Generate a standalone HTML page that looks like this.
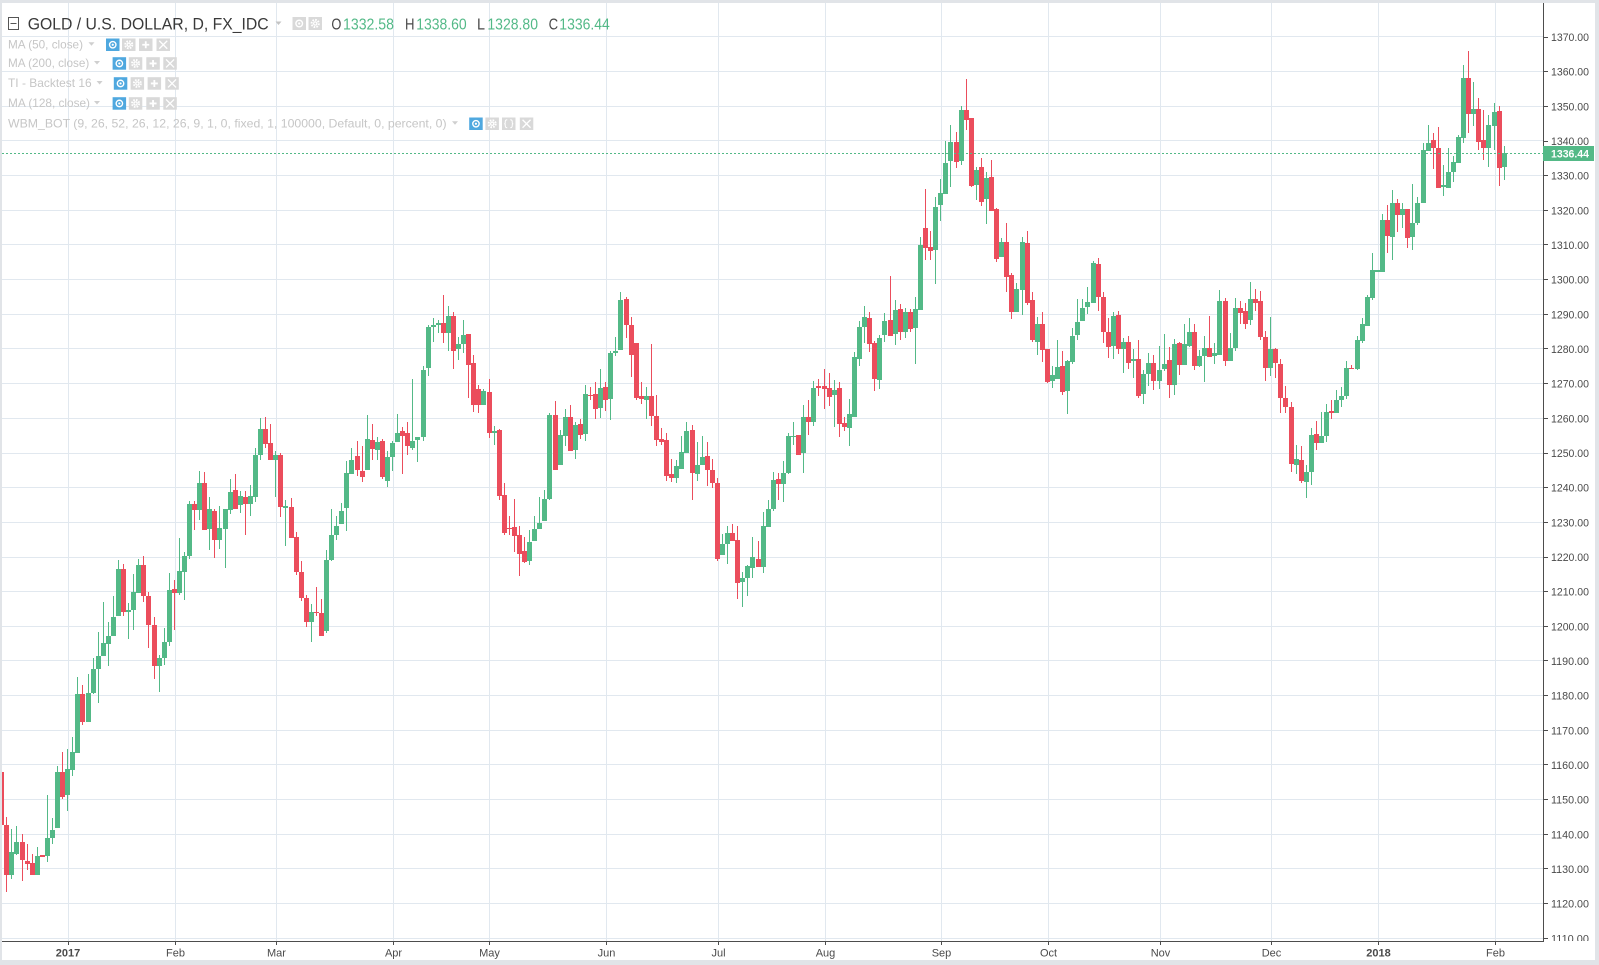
<!DOCTYPE html>
<html><head><meta charset="utf-8"><style>
html,body{margin:0;padding:0;width:1599px;height:965px;overflow:hidden;background:#e1e4e8;}
svg{display:block;font-family:"Liberation Sans",Arial,sans-serif;}
</style></head><body>
<svg id="chart" width="1599" height="965" viewBox="0 0 1599 965" xmlns="http://www.w3.org/2000/svg">
<defs>
<clipPath id="pane"><rect x="2" y="3" width="1541" height="938.5"/></clipPath>
<clipPath id="pscale"><rect x="1544" y="3" width="51" height="938"/></clipPath>
</defs>
<rect x="0" y="0" width="1599" height="965" fill="#e1e4e8"/>
<rect x="2" y="3" width="1593" height="957" fill="#ffffff"/>
<g stroke="#e1e8ef" stroke-width="1" shape-rendering="crispEdges">
<line x1="2" x2="1543" y1="36.5" y2="36.5"/>
<line x1="2" x2="1543" y1="71.5" y2="71.5"/>
<line x1="2" x2="1543" y1="106.5" y2="106.5"/>
<line x1="2" x2="1543" y1="140.5" y2="140.5"/>
<line x1="2" x2="1543" y1="175.5" y2="175.5"/>
<line x1="2" x2="1543" y1="210.5" y2="210.5"/>
<line x1="2" x2="1543" y1="244.5" y2="244.5"/>
<line x1="2" x2="1543" y1="279.5" y2="279.5"/>
<line x1="2" x2="1543" y1="314.5" y2="314.5"/>
<line x1="2" x2="1543" y1="348.5" y2="348.5"/>
<line x1="2" x2="1543" y1="383.5" y2="383.5"/>
<line x1="2" x2="1543" y1="418.5" y2="418.5"/>
<line x1="2" x2="1543" y1="453.5" y2="453.5"/>
<line x1="2" x2="1543" y1="487.5" y2="487.5"/>
<line x1="2" x2="1543" y1="522.5" y2="522.5"/>
<line x1="2" x2="1543" y1="557.5" y2="557.5"/>
<line x1="2" x2="1543" y1="591.5" y2="591.5"/>
<line x1="2" x2="1543" y1="626.5" y2="626.5"/>
<line x1="2" x2="1543" y1="660.5" y2="660.5"/>
<line x1="2" x2="1543" y1="695.5" y2="695.5"/>
<line x1="2" x2="1543" y1="730.5" y2="730.5"/>
<line x1="2" x2="1543" y1="764.5" y2="764.5"/>
<line x1="2" x2="1543" y1="799.5" y2="799.5"/>
<line x1="2" x2="1543" y1="834.5" y2="834.5"/>
<line x1="2" x2="1543" y1="868.5" y2="868.5"/>
<line x1="2" x2="1543" y1="903.5" y2="903.5"/>
<line x1="2" x2="1543" y1="938.5" y2="938.5"/>
<line y1="3" y2="941" x1="68.5" x2="68.5"/>
<line y1="3" y2="941" x1="175.5" x2="175.5"/>
<line y1="3" y2="941" x1="276.5" x2="276.5"/>
<line y1="3" y2="941" x1="393.5" x2="393.5"/>
<line y1="3" y2="941" x1="489.5" x2="489.5"/>
<line y1="3" y2="941" x1="606.5" x2="606.5"/>
<line y1="3" y2="941" x1="718.5" x2="718.5"/>
<line y1="3" y2="941" x1="825.5" x2="825.5"/>
<line y1="3" y2="941" x1="941.5" x2="941.5"/>
<line y1="3" y2="941" x1="1048.5" x2="1048.5"/>
<line y1="3" y2="941" x1="1160.5" x2="1160.5"/>
<line y1="3" y2="941" x1="1271.5" x2="1271.5"/>
<line y1="3" y2="941" x1="1378.5" x2="1378.5"/>
<line y1="3" y2="941" x1="1495.5" x2="1495.5"/>
</g>

<!-- legend -->
<g>
<rect x="8.5" y="17.5" width="10" height="12" fill="none" stroke="#555" stroke-width="1" shape-rendering="crispEdges"/>
<line x1="10.5" x2="16.5" y1="23.5" y2="23.5" stroke="#555" stroke-width="1" shape-rendering="crispEdges"/>
<text x="27.7" y="29.3" font-size="16.5" fill="#3a3a3a" textLength="241" lengthAdjust="spacingAndGlyphs">GOLD / U.S. DOLLAR, D, FX_IDC</text>
<path d="M275.5 21.5 L281.5 21.5 L278.5 25 Z" fill="#c4c4c4"/>
<rect x="292.5" y="17" width="13.5" height="13" fill="#d9d9d9"/>
<circle cx="299.2" cy="23.5" r="3.3" fill="none" stroke="#fff" stroke-width="1.4"/>
<circle cx="299.2" cy="23.5" r="1.1" fill="#fff"/>
<rect x="308.5" y="17" width="13.5" height="13" fill="#d9d9d9"/>
<circle cx="315.2" cy="23.5" r="3.6" fill="none" stroke="#fff" stroke-width="2" stroke-dasharray="1.6 1.2"/>
<circle cx="315.2" cy="23.5" r="2.2" fill="#fff"/>
<circle cx="315.2" cy="23.5" r="1" fill="#d9d9d9"/>
<text x="331.4" y="29.3" font-size="15.5" fill="#4a4a4a" textLength="10" lengthAdjust="spacingAndGlyphs">O</text>
<text x="343" y="29.3" font-size="15.5" fill="#53b987" textLength="51" lengthAdjust="spacingAndGlyphs">1332.58</text>
<text x="405" y="29.3" font-size="15.5" fill="#4a4a4a" textLength="9.5" lengthAdjust="spacingAndGlyphs">H</text>
<text x="416.2" y="29.3" font-size="15.5" fill="#53b987" textLength="50.5" lengthAdjust="spacingAndGlyphs">1338.60</text>
<text x="477" y="29.3" font-size="15.5" fill="#4a4a4a" textLength="8" lengthAdjust="spacingAndGlyphs">L</text>
<text x="487.4" y="29.3" font-size="15.5" fill="#53b987" textLength="50.6" lengthAdjust="spacingAndGlyphs">1328.80</text>
<text x="548.6" y="29.3" font-size="15.5" fill="#4a4a4a" textLength="9.5" lengthAdjust="spacingAndGlyphs">C</text>
<text x="559.3" y="29.3" font-size="15.5" fill="#53b987" textLength="50.5" lengthAdjust="spacingAndGlyphs">1336.44</text>
</g>

<!-- candles -->
<g id="candles" clip-path="url(#pane)" shape-rendering="crispEdges"></g>

<!-- current price line -->
<line x1="2" x2="1543" y1="153.5" y2="153.5" stroke="#53b987" stroke-width="1" stroke-dasharray="2 2" shape-rendering="crispEdges"/>

<!-- axes -->
<g stroke="#4d4d4d" stroke-width="1" shape-rendering="crispEdges">
<line x1="1543.5" x2="1543.5" y1="3" y2="942"/>
<line x1="2" x2="1544" y1="941.5" y2="941.5"/>
</g>

<!-- price scale -->
<g clip-path="url(#pscale)">
<g stroke="#4d4d4d" stroke-width="1" shape-rendering="crispEdges">
<line x1="1544" x2="1548" y1="37.5" y2="37.5"/>
<line x1="1544" x2="1548" y1="71.5" y2="71.5"/>
<line x1="1544" x2="1548" y1="106.5" y2="106.5"/>
<line x1="1544" x2="1548" y1="141.5" y2="141.5"/>
<line x1="1544" x2="1548" y1="175.5" y2="175.5"/>
<line x1="1544" x2="1548" y1="210.5" y2="210.5"/>
<line x1="1544" x2="1548" y1="244.5" y2="244.5"/>
<line x1="1544" x2="1548" y1="279.5" y2="279.5"/>
<line x1="1544" x2="1548" y1="314.5" y2="314.5"/>
<line x1="1544" x2="1548" y1="348.5" y2="348.5"/>
<line x1="1544" x2="1548" y1="383.5" y2="383.5"/>
<line x1="1544" x2="1548" y1="418.5" y2="418.5"/>
<line x1="1544" x2="1548" y1="453.5" y2="453.5"/>
<line x1="1544" x2="1548" y1="487.5" y2="487.5"/>
<line x1="1544" x2="1548" y1="522.5" y2="522.5"/>
<line x1="1544" x2="1548" y1="557.5" y2="557.5"/>
<line x1="1544" x2="1548" y1="591.5" y2="591.5"/>
<line x1="1544" x2="1548" y1="626.5" y2="626.5"/>
<line x1="1544" x2="1548" y1="660.5" y2="660.5"/>
<line x1="1544" x2="1548" y1="695.5" y2="695.5"/>
<line x1="1544" x2="1548" y1="730.5" y2="730.5"/>
<line x1="1544" x2="1548" y1="764.5" y2="764.5"/>
<line x1="1544" x2="1548" y1="799.5" y2="799.5"/>
<line x1="1544" x2="1548" y1="834.5" y2="834.5"/>
<line x1="1544" x2="1548" y1="868.5" y2="868.5"/>
<line x1="1544" x2="1548" y1="903.5" y2="903.5"/>
<line x1="1544" x2="1548" y1="938.5" y2="938.5"/>
</g>
<g font-size="11" fill="#4a4a4a">
<text x="1551" y="41" textLength="38" lengthAdjust="spacingAndGlyphs">1370.00</text>
<text x="1551" y="75.7" textLength="38" lengthAdjust="spacingAndGlyphs">1360.00</text>
<text x="1551" y="110.3" textLength="38" lengthAdjust="spacingAndGlyphs">1350.00</text>
<text x="1551" y="145" textLength="38" lengthAdjust="spacingAndGlyphs">1340.00</text>
<text x="1551" y="179.7" textLength="38" lengthAdjust="spacingAndGlyphs">1330.00</text>
<text x="1551" y="214.3" textLength="38" lengthAdjust="spacingAndGlyphs">1320.00</text>
<text x="1551" y="249" textLength="38" lengthAdjust="spacingAndGlyphs">1310.00</text>
<text x="1551" y="283.7" textLength="38" lengthAdjust="spacingAndGlyphs">1300.00</text>
<text x="1551" y="318.3" textLength="38" lengthAdjust="spacingAndGlyphs">1290.00</text>
<text x="1551" y="353" textLength="38" lengthAdjust="spacingAndGlyphs">1280.00</text>
<text x="1551" y="387.7" textLength="38" lengthAdjust="spacingAndGlyphs">1270.00</text>
<text x="1551" y="422.3" textLength="38" lengthAdjust="spacingAndGlyphs">1260.00</text>
<text x="1551" y="457" textLength="38" lengthAdjust="spacingAndGlyphs">1250.00</text>
<text x="1551" y="491.7" textLength="38" lengthAdjust="spacingAndGlyphs">1240.00</text>
<text x="1551" y="526.3" textLength="38" lengthAdjust="spacingAndGlyphs">1230.00</text>
<text x="1551" y="561" textLength="38" lengthAdjust="spacingAndGlyphs">1220.00</text>
<text x="1551" y="595.6" textLength="38" lengthAdjust="spacingAndGlyphs">1210.00</text>
<text x="1551" y="630.3" textLength="38" lengthAdjust="spacingAndGlyphs">1200.00</text>
<text x="1551" y="665" textLength="38" lengthAdjust="spacingAndGlyphs">1190.00</text>
<text x="1551" y="699.6" textLength="38" lengthAdjust="spacingAndGlyphs">1180.00</text>
<text x="1551" y="734.3" textLength="38" lengthAdjust="spacingAndGlyphs">1170.00</text>
<text x="1551" y="769" textLength="38" lengthAdjust="spacingAndGlyphs">1160.00</text>
<text x="1551" y="803.6" textLength="38" lengthAdjust="spacingAndGlyphs">1150.00</text>
<text x="1551" y="838.3" textLength="38" lengthAdjust="spacingAndGlyphs">1140.00</text>
<text x="1551" y="873" textLength="38" lengthAdjust="spacingAndGlyphs">1130.00</text>
<text x="1551" y="907.6" textLength="38" lengthAdjust="spacingAndGlyphs">1120.00</text>
<text x="1551" y="942.3" textLength="38" lengthAdjust="spacingAndGlyphs">1110.00</text>
</g>
</g>
<rect x="1543" y="146" width="51" height="15" fill="#53b987"/>
<text x="1551" y="157.5" font-size="11" font-weight="bold" fill="#ffffff" textLength="38" lengthAdjust="spacingAndGlyphs">1336.44</text>

<!-- time scale -->
<g stroke="#4d4d4d" stroke-width="1" shape-rendering="crispEdges">
<line y1="942" y2="945" x1="68.5" x2="68.5"/>
<line y1="942" y2="945" x1="175.5" x2="175.5"/>
<line y1="942" y2="945" x1="276.5" x2="276.5"/>
<line y1="942" y2="945" x1="393.5" x2="393.5"/>
<line y1="942" y2="945" x1="489.5" x2="489.5"/>
<line y1="942" y2="945" x1="606.5" x2="606.5"/>
<line y1="942" y2="945" x1="718.5" x2="718.5"/>
<line y1="942" y2="945" x1="825.5" x2="825.5"/>
<line y1="942" y2="945" x1="941.5" x2="941.5"/>
<line y1="942" y2="945" x1="1048.5" x2="1048.5"/>
<line y1="942" y2="945" x1="1160.5" x2="1160.5"/>
<line y1="942" y2="945" x1="1271.5" x2="1271.5"/>
<line y1="942" y2="945" x1="1378.5" x2="1378.5"/>
<line y1="942" y2="945" x1="1495.5" x2="1495.5"/>
</g>
<g font-size="11" fill="#4a4a4a" text-anchor="middle">
<text x="68" y="956.5" font-weight="bold">2017</text>
<text x="175.5" y="956.5">Feb</text>
<text x="276.5" y="956.5">Mar</text>
<text x="393.5" y="956.5">Apr</text>
<text x="489.5" y="956.5">May</text>
<text x="606.5" y="956.5">Jun</text>
<text x="718.5" y="956.5">Jul</text>
<text x="825.5" y="956.5">Aug</text>
<text x="941.5" y="956.5">Sep</text>
<text x="1048.5" y="956.5">Oct</text>
<text x="1160.5" y="956.5">Nov</text>
<text x="1271.5" y="956.5">Dec</text>
<text x="1378.5" y="956.5" font-weight="bold">2018</text>
<text x="1495.5" y="956.5">Feb</text>
</g>

<!-- indicator rows (static text) -->
<g font-size="12" fill="#c6c6c6">
<text x="8" y="48.3" textLength="75" lengthAdjust="spacingAndGlyphs">MA (50, close)</text>
<text x="8" y="67" textLength="81.3" lengthAdjust="spacingAndGlyphs">MA (200, close)</text>
<text x="8" y="87" textLength="83.7" lengthAdjust="spacingAndGlyphs">TI - Backtest 16</text>
<text x="8" y="107" textLength="82" lengthAdjust="spacingAndGlyphs">MA (128, close)</text>
<text x="8" y="127.3" textLength="438.6" lengthAdjust="spacingAndGlyphs">WBM_BOT (9, 26, 52, 26, 12, 26, 9, 1, 0, fixed, 1, 100000, Default, 0, percent, 0)</text>
</g>
<g id="icons"></g>
</svg>
<script>
(function(){
var D=[
[1157.9,1158,1142.8,1142.8],[1142.8,1144.9,1123.3,1128.2],[1128.2,1141.6,1127.2,1134.9],[1134.4,1142.5,1134.1,1137.9],[1137.9,1140.1,1126.4,1132.5],
[1132.4,1137.3,1129.8,1131.4],[1131.8,1134.4,1128.2,1128.2],[1128.2,1136.2,1128.2,1133.8],[1134.1,1134.1,1133.4,1133.4],[1133.7,1151.2,1132.1,1139.0],
[1138.8,1144.8,1137.2,1141.3],[1141.7,1159.8,1141.7,1158.1],[1158.1,1163.7,1150.3,1150.7],[1151.4,1164.7,1146.6,1158.7],[1158.5,1168.2,1156.7,1163.6],
[1163.5,1185.3,1163.5,1180.6],[1180.6,1183.2,1171.4,1172.3],[1172.3,1186.3,1172.3,1180.9],[1180.9,1191,1180.6,1187.8],[1187.6,1198.5,1177.8,1191.5],
[1191.3,1207.1,1191.3,1195.2],[1195,1201.3,1188.5,1197.3],[1197.1,1208.8,1197.1,1202.8],[1202.9,1219.2,1202.9,1216.6],[1216.6,1218,1202.9,1204],
[1204,1206.8,1196.2,1204.8],[1204.6,1215.2,1199,1210],[1209.6,1219.5,1209.6,1217.8],[1217.8,1220.4,1207.1,1208.7],[1208.8,1210,1193.7,1200.3],
[1200.5,1202.8,1184.9,1188.5],[1188.5,1191.8,1181,1191],[1190.8,1199.6,1188.7,1195.6],[1195.4,1215.5,1194.2,1210.6],[1210.8,1213.5,1198.8,1209.6],
[1209.6,1225.6,1208.9,1216],[1215.6,1221.5,1207.7,1220.4],[1220.2,1236.1,1219.4,1235.4],[1235.4,1236.1,1227.9,1233.5],[1233.5,1244.9,1230.6,1241.4],
[1241.4,1244.6,1227.9,1227.9],[1228,1237.4,1222.1,1233.9],[1233.4,1233.8,1219.8,1225],[1225,1234.8,1222.4,1228.5],[1228.2,1233.7,1216.9,1233.7],
[1233.5,1242.6,1232.5,1238.8],[1239.4,1244,1233.9,1233.9],[1234.9,1239.1,1232.8,1237.7],[1237.4,1239.1,1226.4,1235.4],[1235.4,1240.9,1231.7,1237.7],
[1237.4,1251.3,1236,1249.5],[1249.5,1260,1248.1,1257],[1257,1260.5,1251.3,1252.6],[1252.9,1258.5,1248.1,1248.1],[1248.1,1250.7,1237.4,1249.5],
[1249.5,1250.1,1231.4,1234.3],[1234,1236.5,1223.3,1234.6],[1234.5,1237.1,1225.4,1225.4],[1225.7,1227.3,1214.7,1215.6],[1215.8,1218.7,1207.2,1208.1],
[1208.3,1209.1,1199.7,1201.2],[1201.2,1206.5,1195.4,1204.2],[1204.2,1211.4,1202.9,1203.8],[1203.9,1208,1197.1,1197.1],[1198.6,1222.1,1198,1219.2],
[1219,1233.9,1218.8,1226.2],[1226.3,1231.9,1225,1228.8],[1229.4,1235.7,1229.4,1233.4],[1234,1247.8,1227.4,1244.3],[1243.8,1251.5,1243.8,1248],
[1249,1253.6,1243.3,1245],[1244.9,1252.1,1241.5,1243],[1245,1261.1,1245,1254.1],[1253.8,1258.5,1248.1,1251.1],[1250.8,1254.7,1247.9,1253.3],
[1253.6,1254.1,1242.4,1243],[1241.8,1250.7,1240.1,1248.9],[1248.9,1253.6,1244.9,1253],[1253.3,1261.3,1253.3,1255.9],[1256.2,1257.6,1244,1255],
[1255.9,1259,1249.5,1251.9],[1251.5,1271.2,1251,1253.6],[1253.8,1254.7,1247.5,1254.7],[1254.7,1275.2,1253.6,1274],[1274.6,1287,1272.3,1286.2],
[1286.2,1288.8,1282.1,1287],[1287,1288.5,1284.7,1287.4],[1287.6,1295.7,1281.8,1284.5],[1284.5,1292.5,1279.3,1289.6],[1289.6,1290.8,1274.3,1279.5],
[1280.1,1283.6,1276.9,1281.5],[1281.5,1288.5,1278.9,1284.1],[1284.4,1284.4,1266,1275.5],[1276.1,1278.4,1261.9,1263.7],[1268.6,1269.7,1261.6,1263.7],
[1263.7,1268.6,1263.7,1268],[1267.7,1271.4,1254.4,1255.9],[1255.9,1257.9,1252.4,1256.4],[1256.7,1257,1236.3,1237.7],[1238,1241.4,1226.2,1227],
[1228.5,1231.9,1226.4,1228.2],[1228.6,1236.8,1221.5,1226],[1226.2,1228.8,1214.6,1220.8],[1221.8,1225.9,1218.2,1218.5],[1218.8,1227.9,1217.6,1224.4],
[1224.7,1231.9,1224.7,1228.2],[1228.2,1237.4,1228.2,1229.9],[1230.5,1239.4,1230.5,1236.8],[1236.8,1261.4,1236.5,1261.1],[1261.1,1265.1,1245.2,1245.2],
[1246.6,1256.7,1246.6,1255.3],[1255,1262.8,1252.1,1260.5],[1260.5,1263.9,1250.7,1250.7],[1251,1259,1248.4,1258.2],[1258.5,1259.9,1254.1,1255.1],
[1255.4,1269.7,1253.6,1267.1],[1266.8,1269.1,1265.4,1266.3],[1267.1,1270.6,1259.7,1262.6],[1262.9,1274.3,1260,1268.8],[1269.1,1270.6,1262,1265.2],
[1265.5,1279.5,1259.4,1278.9],[1278.9,1283.6,1278.1,1279.3],[1279.6,1296.3,1279.6,1294.2],[1294.5,1295.1,1283.1,1286.8],[1287,1289.1,1271.8,1278.2],
[1281.8,1281.8,1265.2,1265.8],[1266.5,1270.6,1264,1265.5],[1265.2,1269.1,1259.7,1266.5],[1266.3,1281.3,1257.7,1260.6],[1260.8,1266.8,1251.9,1253.7],
[1254.1,1257.3,1252.2,1253.1],[1253.8,1255.9,1241.8,1243.3],[1243.8,1248.4,1241.7,1242.7],[1242.7,1248.1,1241.3,1246.3],[1245.3,1255,1245.3,1250.4],
[1249.9,1259,1249.9,1256.4],[1256.7,1258.2,1236.5,1244.1],[1243.8,1253.3,1241.8,1246.6],[1246.6,1255,1246.6,1248.9],[1249.2,1253.3,1240.4,1245.2],
[1245.2,1248.4,1239.8,1241.3],[1241.4,1242.9,1218.8,1219.3],[1220.5,1226.7,1220.5,1223.8],[1223.8,1229,1217.9,1227],[1227,1229.6,1224.5,1224.5],
[1225,1228.8,1207.8,1212.4],[1212.9,1215.8,1205.5,1214],[1214,1217.8,1208.7,1217.5],[1216.7,1225.9,1213.8,1220.1],[1219.5,1224.7,1217,1217],
[1217,1233.1,1215.3,1228.8],[1228.6,1236.5,1228.6,1233.9],[1233.7,1244.6,1233.2,1242.3],[1242.6,1244.3,1236.3,1241],[1241,1247.8,1235.8,1244.3],
[1244.3,1255.9,1243.8,1255],[1254.7,1259,1252.4,1255],[1255.3,1255.3,1249.3,1249.3],[1250.1,1263.7,1244.1,1260.5],[1260.5,1265.4,1255.1,1258.8],
[1259,1270.9,1257.9,1268.8],[1269.4,1271.4,1266.3,1268.8],[1269.4,1274.3,1262.8,1268.6],[1268.7,1273.1,1263.6,1266.2],[1266.7,1271,1257.5,1268.1],
[1268.7,1270.4,1254.6,1258.4],[1258.7,1260.4,1256.3,1257.5],[1257.2,1265.5,1252,1261.2],[1260.4,1279,1260.4,1277.6],[1277.1,1288,1275.1,1286.3],
[1286.3,1292.3,1281.6,1289.1],[1288.8,1290.6,1279,1281.3],[1281.6,1282.2,1267.9,1271.3],[1271,1284,1268.5,1283.1],[1283.9,1290.3,1281.9,1288],
[1288.3,1301,1283.7,1283.7],[1284.2,1294,1281.1,1291.2],[1291.4,1292.9,1282.5,1284.8],[1284.8,1291.7,1283.1,1290.6],[1290.6,1291.4,1284.8,1285.7],
[1286,1294.9,1275.6,1291.4],[1291.2,1312.2,1291.2,1309.9],[1314.8,1326.1,1305.6,1309],[1309.3,1313.9,1305.6,1308.2],[1308.5,1323.8,1298.7,1320.9],
[1321.4,1328.9,1316.8,1324.9],[1324.6,1339.9,1324.6,1333.6],[1334.1,1344.5,1326.6,1339.6],[1339.6,1342.5,1332.1,1333.8],[1334.1,1350,1333,1348.8],
[1348.8,1357.8,1343.1,1346],[1346.5,1346.5,1326.6,1326.9],[1327.2,1332.4,1322.9,1331.5],[1332.4,1335,1321.2,1322.3],[1323.2,1331,1316,1329.2],
[1329.5,1334.4,1319.7,1319.7],[1320.3,1320.6,1305.1,1305.9],[1306.4,1311.9,1306.4,1310.8],[1311,1316.2,1296.3,1300.7],[1301.3,1301.8,1288.6,1290.6],
[1290.6,1298.9,1290.6,1297.2],[1296.9,1312.2,1289.7,1311],[1310.5,1313.9,1292.6,1293.2],[1294,1296.3,1281.9,1282.5],[1281.9,1289.1,1278.2,1287.1],
[1287.1,1290.6,1276.2,1279.6],[1279.9,1279.9,1270.1,1270.4],[1270.7,1275,1268.7,1272.4],[1271.3,1282.5,1271.3,1274.7],[1275,1279.3,1266.6,1267.5],
[1267.8,1276.7,1261.2,1276.4],[1276.2,1286,1275.6,1283.7],[1284,1294.3,1282.5,1287.7],[1288,1294.3,1288,1291.7],[1292,1297.8,1290,1293.5],
[1293.2,1305.3,1293.2,1304.7],[1304.4,1306.2,1290.9,1295],[1295.1,1296.3,1281.6,1284.8],[1285,1289,1277.3,1280.5],[1280.8,1290.8,1277,1289.6],
[1289.9,1291,1278.5,1279.9],[1279.9,1283.3,1273,1282.1],[1282.1,1283.8,1274.1,1275.9],[1276.4,1280.1,1271.5,1277.2],[1277.2,1282.7,1266,1266.3],
[1266.9,1274,1264,1272.9],[1272.7,1278.9,1269.2,1276.1],[1276.1,1278.4,1268.1,1270.7],[1270.7,1281,1268.4,1274],[1274.3,1284.4,1273.6,1275.8],
[1276.9,1280.7,1266,1269.5],[1269.5,1283,1266.6,1281.5],[1281.8,1282.1,1272.4,1275.3],[1275.3,1287.3,1275.3,1281.3],[1281,1288.8,1280.7,1285],
[1285,1287.3,1273.8,1275],[1275,1279.8,1274.7,1278.1],[1277.9,1283.8,1270.4,1280.4],[1280.4,1289.6,1277.6,1277.6],[1277.9,1281.8,1275.6,1278.7],
[1278.4,1297.1,1278.4,1293.7],[1293.7,1294.8,1275,1276.4],[1276.4,1284.7,1276.4,1280.4],[1280.2,1294.8,1279.5,1291.9],[1291.9,1293.7,1287.3,1290.5],
[1291,1293.4,1285.9,1287.1],[1288.3,1299.4,1287,1294.5],[1294.5,1297.4,1291,1293.4],[1293.7,1296.8,1282.5,1283.4],[1283.6,1285.3,1270.7,1274.4],
[1274.4,1289.3,1272.1,1280.1],[1280.1,1280.4,1271.5,1275.9],[1275.8,1277.2,1261.4,1265.8],[1266,1269.4,1261.4,1263.2],[1263.4,1264.8,1244.4,1246.7],
[1246.4,1252.4,1243.8,1248.4],[1248.1,1251.9,1241.3,1241.8],[1241.5,1246.4,1236.9,1244.4],[1244.4,1257.3,1240.7,1255.3],[1255.6,1259.3,1250.8,1252.8],
[1252.8,1261.9,1252.8,1255],[1254.8,1264.2,1253.1,1261.9],[1262.2,1265.4,1259.7,1261.4],[1261.4,1268.3,1261.4,1265.4],[1265.2,1269.1,1263.2,1266.5],
[1266.3,1276.6,1265.5,1274.6],[1274.6,1275.5,1274.3,1274.3],[1274.3,1283.8,1273.8,1282.7],[1282.4,1289,1281.6,1287.3],[1286.7,1295.7,1286.7,1295.1],
[1294.8,1307.8,1294.2,1302.9],[1302.3,1302.9,1302.3,1302.8],[1302.3,1318.9,1302.3,1317.2],[1317.2,1321.5,1307.8,1312.7],[1312.4,1325.9,1305.8,1322.1],
[1322.1,1323.3,1313.8,1318.7],[1318.7,1322.1,1314.9,1320.4],[1320.4,1320.4,1309.2,1312.1],[1312.4,1327.6,1308.5,1316.3],[1316.3,1323.8,1315.8,1322.1],
[1322.1,1339.4,1322.1,1337.4],[1337.1,1344.6,1337.1,1339.4],[1340.3,1342.3,1331.9,1338],[1338,1344,1326.5,1326.5],[1326.8,1333.1,1324.2,1327.4],
[1326.5,1338,1326.5,1331.1],[1331.1,1335.7,1328.2,1333.9],[1333.7,1341.7,1333.7,1341.2],[1340.9,1361.9,1339.4,1358.2],[1358.2,1366,1342.3,1347.8],
[1347.8,1357,1344.3,1349.2],[1349.2,1352.4,1337.4,1339.7],[1340.3,1348.9,1334.5,1338],[1338,1347.5,1332.5,1344.6],[1344.3,1351,1337.4,1348.4],
[1348.7,1350.1,1327.1,1332.3],[1332.58,1338.6,1328.8,1336.44]
];
var NS="http://www.w3.org/2000/svg";
function Y(p){return 37+(1370-p)*3.4665;}
function el(tag,attrs,parent){var e=document.createElementNS(NS,tag);for(var k in attrs)e.setAttribute(k,attrs[k]);parent.appendChild(e);return e;}
var g=document.getElementById('candles');
var up='#53b987',dn='#eb4d5c';
for(var i=0;i<D.length;i++){
  var o=D[i][0],h=D[i][1],l=D[i][2],c=D[i][3];
  var cx=1.224+5.076*i;
  var left=Math.round(cx-2);
  var col=(c>=o)?up:dn;
  var yh=Math.round(Y(h)),yl=Math.round(Y(l));
  el('rect',{x:left+2,y:yh,width:1,height:Math.max(1,yl-yh),fill:col},g);
  var bt=Math.round(Y(Math.max(o,c))),bb=Math.round(Y(Math.min(o,c)));
  el('rect',{x:left,y:bt,width:5,height:Math.max(1,bb-bt),fill:col},g);
}
var ic=document.getElementById('icons');
var rows=[
 {b:48.3,a:88.5,x:[106,122,139,156.5],t:['eye','gear','plus','x']},
 {b:67,a:94,x:[112.6,128.8,146.3,163.3],t:['eye','gear','plus','x']},
 {b:87,a:96.6,x:[113.8,130.6,147.6,165.3],t:['eye','gear','plus','x']},
 {b:107,a:94,x:[112.6,128.8,146.3,163.3],t:['eye','gear','plus','x']},
 {b:127.3,a:452,x:[469.2,485.4,502,519.8],t:['eye','gear','br','x']}
];
rows.forEach(function(r){
  var ty=r.b-4.5;
  el('path',{d:'M'+r.a+' '+(ty-1.5)+' l6 0 l-3 3.5 z',fill:'#cfcfcf'},ic);
  r.x.forEach(function(x,j){
    var t=r.t[j];var top=r.b-9.8,w=13.5,h=12.5;
    el('rect',{x:x,y:top,width:w,height:h,fill:(t=='eye')?'#4fa8df':'#d9d9d9'},ic);
    var cx=x+w/2,cy=top+h/2;
    if(t=='eye'){el('circle',{cx:cx,cy:cy,r:3.2,fill:'none',stroke:'#fff','stroke-width':1.4},ic);el('circle',{cx:cx,cy:cy,r:1.1,fill:'#fff'},ic);}
    else if(t=='gear'){el('circle',{cx:cx,cy:cy,r:3.5,fill:'none',stroke:'#fff','stroke-width':2,'stroke-dasharray':'1.6 1.2'},ic);el('circle',{cx:cx,cy:cy,r:2.2,fill:'#fff'},ic);el('circle',{cx:cx,cy:cy,r:1,fill:'#d9d9d9'},ic);}
    else if(t=='plus'){el('path',{d:'M'+(cx-3.5)+' '+cy+' h7 M'+cx+' '+(cy-3.5)+' v7',stroke:'#fff','stroke-width':1.8},ic);}
    else if(t=='x'){el('path',{d:'M'+(cx-4)+' '+(cy-4)+' l8 8 M'+(cx+4)+' '+(cy-4)+' l-8 8',stroke:'#fff','stroke-width':1.3},ic);}
    else if(t=='br'){el('path',{d:'M'+(cx-1.5)+' '+(cy-4)+' q-2 0 -2 2 v1 q0 1 -1 1 q1 0 1 1 v1 q0 2 2 2 M'+(cx+1.5)+' '+(cy-4)+' q2 0 2 2 v1 q0 1 1 1 q-1 0 -1 1 v1 q0 2 -2 2',stroke:'#fff','stroke-width':1,fill:'none'},ic);}
  });
});
})();
</script>
</body></html>
